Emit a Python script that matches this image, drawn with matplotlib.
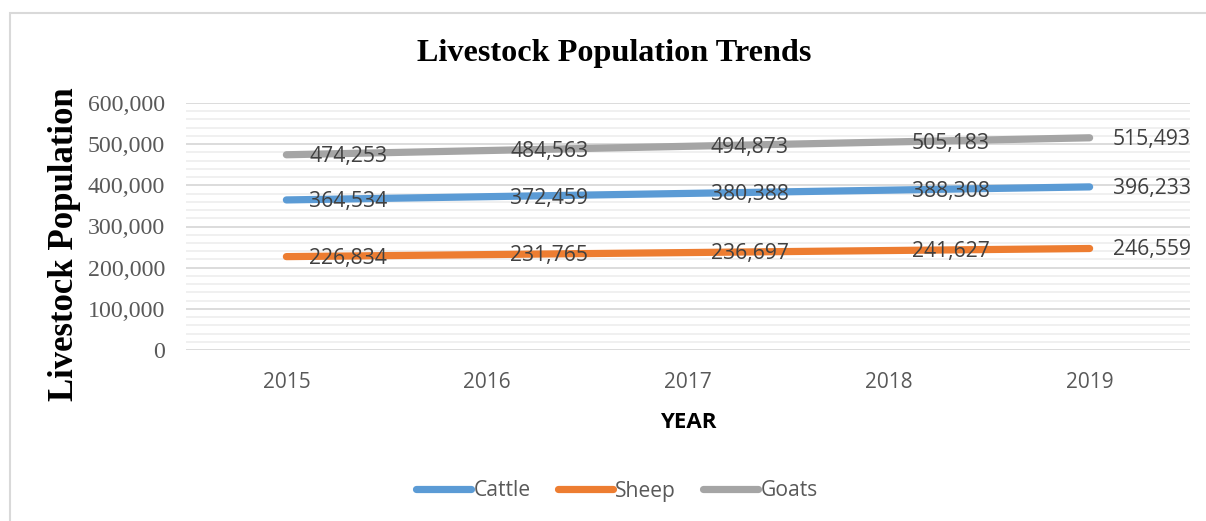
import matplotlib
matplotlib.use("Agg")
import matplotlib.pyplot as plt
from matplotlib.patches import Rectangle
from matplotlib.ticker import MultipleLocator, FuncFormatter

years = ["2015", "2016", "2017", "2018", "2019"]
cattle = [364534, 372459, 380388, 388308, 396233]
sheep = [226834, 231765, 236697, 241627, 246559]
goats = [474253, 484563, 494873, 505183, 515493]

series = [("Cattle", cattle, "#5B9BD5"),
          ("Sheep", sheep, "#ED7D31"),
          ("Goats", goats, "#A5A5A5")]

W, H = 1206, 521
fig = plt.figure(figsize=(W / 100, H / 100), dpi=100)
ax = fig.add_axes([186 / W, 1 - 350 / H, (1190 - 186) / W, (350 - 103) / H])

sans = "Open Sans"
serif = "Liberation Serif"

x = list(range(len(years)))
for name, vals, color in series:
    ax.plot(x, vals, color=color, lw=5.2, solid_capstyle="round", label=name, zorder=3)
    for xi, v in zip(x, vals):
        ax.annotate(f"{v:,}", (xi, v), xytext=(16.5, -1), textcoords="offset points",
                    ha="left", va="center", fontsize=15.2, family=sans,
                    color="#404040", zorder=4)

ax.set_xlim(-0.5, len(years) - 0.5)
ax.set_ylim(0, 600000)
ax.set_xticks(x)
ax.set_xticklabels(years, family=sans, fontsize=15, color="#595959")
ax.yaxis.set_major_locator(MultipleLocator(100000))
ax.yaxis.set_minor_locator(MultipleLocator(20000))
ax.yaxis.set_major_formatter(FuncFormatter(lambda v, p: f"{int(v):,}"))
for lab in ax.get_yticklabels():
    lab.set_family(serif)
    lab.set_fontsize(17.2)
    lab.set_color("#595959")
ax.tick_params(axis="y", which="both", length=0, pad=15)
ax.tick_params(axis="x", length=0, pad=15.5)

ax.grid(axis="y", which="major", color="#D9D9D9", lw=1.3, zorder=1)
ax.grid(axis="y", which="minor", color="#EFEFEF", lw=1.3, zorder=1)
for s in ax.spines.values():
    s.set_visible(False)

ax.set_xlabel("YEAR", family=sans, fontweight="bold", fontsize=16, color="#000000", labelpad=14)
fig.text(65 / W, 1 - 244 / H, "Livestock Population", rotation=90, ha="center", va="center",
         family=serif, fontweight="bold", fontsize=25, color="#000000")
fig.text(614 / W, 1 - 53 / H, "Livestock Population Trends", ha="center", va="center",
         family=serif, fontweight="bold", fontsize=23.2, color="#000000")

leg = fig.legend(loc="center", bbox_to_anchor=(617 / W, 1 - 491 / H), ncol=3, frameon=False,
                 prop={"family": sans, "size": 15.2}, handlelength=2.6, handletextpad=0.1,
                 columnspacing=1.3)
for t in leg.get_texts():
    t.set_color("#595959")

fig.patches.append(Rectangle((10 / W, -0.1), 1.2, 1 - 13 / H + 0.1, transform=fig.transFigure,
                             fill=False, edgecolor="#D9D9D9", lw=1.5, zorder=0))

fig.savefig("out.png", dpi=100, facecolor="white")
